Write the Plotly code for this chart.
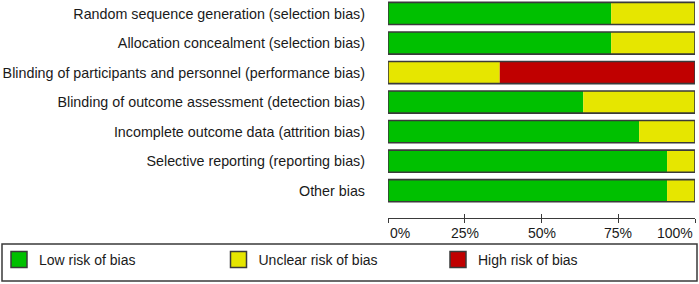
import plotly.graph_objects as go

categories = [
    "Random sequence generation (selection bias)",
    "Allocation concealment (selection bias)",
    "Blinding of participants and personnel (performance bias)",
    "Blinding of outcome assessment (detection bias)",
    "Incomplete outcome data (attrition bias)",
    "Selective reporting (reporting bias)",
    "Other bias",
]
low_risk = [72.7, 72.7, 0.0, 63.6, 81.8, 90.9, 90.9]
unclear_risk = [27.3, 27.3, 36.4, 36.4, 18.2, 9.1, 9.1]
high_risk = [0.0, 0.0, 63.6, 0.0, 0.0, 0.0, 0.0]
series_names = ["Low risk of bias", "Unclear risk of bias", "High risk of bias"]
tick_values = [0, 25, 50, 75, 100]
tick_labels = ["0%", "25%", "50%", "75%", "100%"]

colors = ["#00C000", "#E6E600", "#C00000"]
edge = "#3a3a3a"
font_family = "Arial, 'Liberation Sans', sans-serif"
text_color = "#1a1a1a"

fig = go.Figure()
series = [low_risk, unclear_risk, high_risk]
bases = [[0.0] * len(categories) for _ in series]
for k in range(1, len(series)):
    bases[k] = [b + v for b, v in zip(bases[k - 1], series[k - 1])]

for vals, base, name, col in zip(series, bases, series_names, colors):
    fig.add_trace(go.Bar(
        x=vals, base=base, y=categories, orientation="h", name=name,
        marker=dict(color=col, line=dict(width=0)),
        showlegend=False, hoverinfo="x+y",
    ))
    fig.add_trace(go.Scatter(
        x=[None], y=[None], mode="markers", name=name,
        marker=dict(symbol="square", size=19, color=col, line=dict(color=edge, width=1.5)),
        showlegend=True,
    ))

totals = [a + b + c for a, b, c in zip(low_risk, unclear_risk, high_risk)]
fig.add_trace(go.Bar(
    x=totals, base=[0.0] * len(categories), y=categories, orientation="h", showlegend=False,
    marker=dict(color="rgba(255,255,255,0)", line=dict(color=edge, width=1.6)),
    hoverinfo="skip",
))

# helper trace so the inside-tick overlay axis is drawn
fig.add_trace(go.Scatter(x=[None], y=[None], xaxis="x2", yaxis="y", showlegend=False, hoverinfo="skip"))

W, H = 699, 284
ML, MR, MT, MB = 388, 4, 0, 66
pw, ph = W - ML - MR, H - MT - MB
yrange = [6.925, -0.457]


def px_x(p):
    return (p - ML) / pw


def px_y(p):
    return -(p - (MT + ph)) / ph


fig.update_layout(
    width=W, height=H,
    margin=dict(l=ML, r=MR, t=MT, b=MB, autoexpand=False),
    paper_bgcolor="white", plot_bgcolor="white",
    barmode="overlay", bargap=0.25,
    font=dict(family=font_family, size=14, color=text_color),
    xaxis=dict(
        domain=[0, 1], range=[0, 100],
        showline=True, linecolor=edge, linewidth=1,
        ticks="outside", ticklen=4, tickcolor=edge, tickwidth=1,
        tickvals=tick_values, showticklabels=False,
        showgrid=False, zeroline=False, fixedrange=True,
    ),
    xaxis2=dict(
        overlaying="x", range=[0, 100], anchor="y", side="bottom",
        showline=False, ticks="inside", ticklen=4, tickcolor=edge, tickwidth=1,
        tickvals=tick_values, showticklabels=False,
        showgrid=False, zeroline=False, fixedrange=True,
    ),
    yaxis=dict(
        domain=[0, 1], type="category", categoryorder="array", categoryarray=categories,
        range=yrange, showline=False, ticks="", showgrid=False, zeroline=False,
        ticklabelstandoff=22, tickfont=dict(size=14.3, color=text_color), fixedrange=True,
    ),
    legend=dict(
        orientation="h",
        x=px_x(2), xanchor="left", y=px_y(244), yanchor="top",
        borderwidth=0, bgcolor="rgba(0,0,0,0)",
        entrywidth=177.5, entrywidthmode="pixels", traceorder="normal",
        indentation=-3,
        font=dict(size=14, color=text_color), itemsizing="trace",
    ),
    shapes=[dict(
        type="rect", xref="paper", yref="paper",
        x0=px_x(2), x1=px_x(697), y0=px_y(244), y1=px_y(281),
        line=dict(color=edge, width=1.5), fillcolor="rgba(0,0,0,0)", layer="below",
    )],
    showlegend=True,
)

for i, (v, lab) in enumerate(zip(tick_values, tick_labels)):
    anchor = "left" if i == 0 else ("right" if i == len(tick_values) - 1 else "center")
    fig.add_annotation(
        x=v, y=0, xref="x", yref="paper", text=lab, showarrow=False,
        xanchor=anchor, yanchor="middle", yshift=-14.5,
        font=dict(size=14, color=text_color),
    )

fig.write_html("out.html", config={"displayModeBar": False},
               post_script="document.body.style.margin='0';")
